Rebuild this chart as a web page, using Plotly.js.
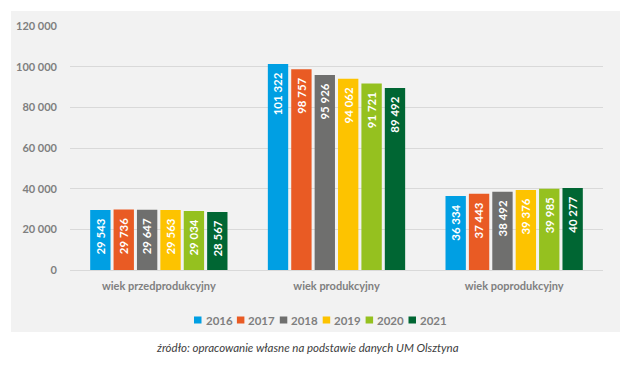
<!DOCTYPE html>
<html><head><meta charset="utf-8">
<script src="https://cdn.plot.ly/plotly-3.0.1.min.js"></script>
<style>html,body{margin:0;padding:0;background:#fff}#chart{width:630px;height:370px}</style>
</head><body><div id="chart"></div>
<script>
const categories = ["wiek przedprodukcyjny", "wiek produkcyjny", "wiek poprodukcyjny"];
const years = ["2016", "2017", "2018", "2019", "2020", "2021"];
const v2016 = [29543, 101322, 36334];
const v2017 = [29736, 98757, 37443];
const v2018 = [29647, 95926, 38492];
const v2019 = [29563, 94062, 39376];
const v2020 = [29034, 91721, 39985];
const v2021 = [28567, 89492, 40277];
const colors = ["#009fe3", "#e95b24", "#6f6f6e", "#fdc300", "#95c11f", "#006633"];
const yTicks = [0, 20000, 40000, 60000, 80000, 100000, 120000];
const caption = "źródło: opracowanie własne na podstawie danych UM Olsztyna";

const series = [v2016, v2017, v2018, v2019, v2020, v2021];
const FONT = "Lato, 'Open Sans', sans-serif";
const traces = series.map((vals, i) => ({
  type: "bar",
  name: years[i],
  x: categories,
  y: vals,
  marker: {color: colors[i]},
  texttemplate: "%{y:,d}\u00a0\u00a0",
  textposition: "inside",
  insidetextanchor: "end",
  textangle: -90,
  insidetextfont: {color: "#ffffff", size: 12, family: FONT, weight: "bold"},
  hoverinfo: "none",
  showlegend: false
}));

// plot area geometry (px) used to convert the manual legend to paper coords
const PL = 70, PW = 533, PB = 270, PH = 244;
const px = v => (v - PL) / PW;
const py = v => (PB - v) / PH;

const shapes = [{type: "rect", xref: "paper", yref: "paper", x0: px(11), x1: px(620), y0: py(332), y1: py(11),
  fillcolor: "#f2f2f2", line: {width: 0}, layer: "below"}];
const annotations = [{text: "<i>" + caption + "</i>", xref: "paper", yref: "paper", x: px(307), y: py(347), xanchor: "center",
  yanchor: "middle", showarrow: false, font: {size: 11.5, color: "#404040", family: FONT, style: "italic", weight: "normal"}}];

years.forEach((yr, i) => {
  const sx = 194 + 42.9 * i;
  shapes.push({type: "rect", xref: "paper", yref: "paper", x0: px(sx), x1: px(sx + 7.5), y0: py(323.5), y1: py(316.5),
    fillcolor: colors[i], line: {width: 0}});
  annotations.push({text: yr, xref: "paper", yref: "paper", x: px(sx + 9.5), y: py(320.5), xanchor: "left",
    yanchor: "middle", showarrow: false, font: {size: 11.5, color: "#7f7f7f", family: FONT, weight: "bold"}});
});

const layout = {
  width: 630, height: 370,
  margin: {l: 70, r: 27, t: 26, b: 100},
  paper_bgcolor: "#ffffff",
  plot_bgcolor: "#f2f2f2",
  separators: ", ",
  font: {family: FONT, color: "#7f7f7f"},
  barmode: "group",
  bargap: 0.21,
  bargroupgap: 0.13,
  showlegend: false,
  xaxis: {showgrid: false, showline: false, ticks: "", ticklabelstandoff: 8,
    tickfont: {size: 11, color: "#7f7f7f", weight: "bold"}},
  yaxis: {range: [0, 120000], tickvals: yTicks, tickformat: ",d", showgrid: true, gridcolor: "#d9d9d9",
    zeroline: true, zerolinecolor: "#d9d9d9", zerolinewidth: 1, showline: false, ticks: "",
    ticklabelstandoff: 12,
    tickfont: {size: 11, color: "#7f7f7f", weight: "bold"}},
  shapes: shapes,
  annotations: annotations
};
Plotly.newPlot("chart", traces, layout, {staticPlot: true});
</script></body></html>
